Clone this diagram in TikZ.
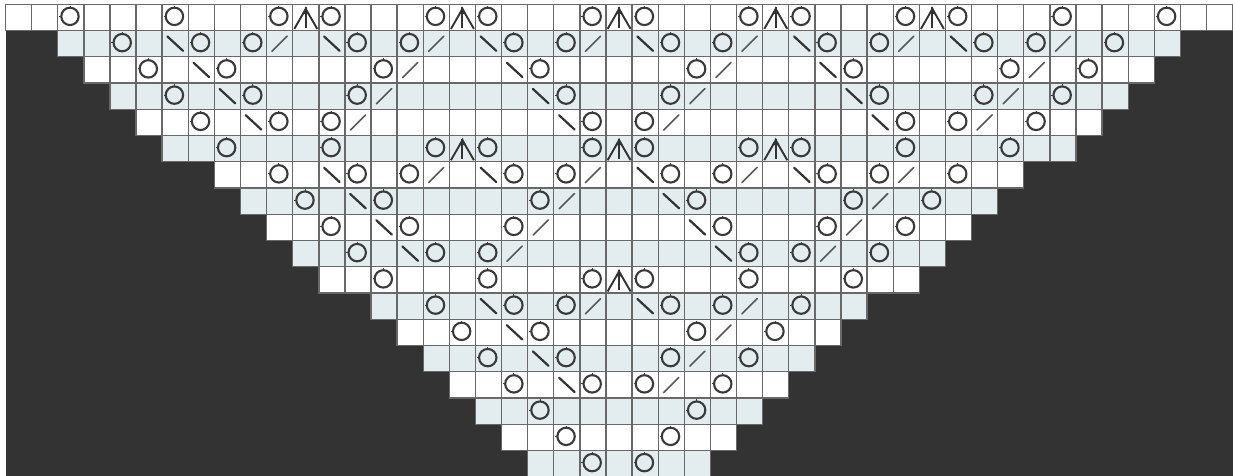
\documentclass[tikz,border=0pt]{standalone}
\definecolor{chartdark}{HTML}{333333}
\definecolor{chartshade}{HTML}{E3ECEE}
\definecolor{chartgrid}{HTML}{686868}
\definecolor{chartink}{HTML}{3A3A3A}
\tikzset{
  cellplain/.style={fill=white,draw=chartgrid,line width=1.35pt},
  cellshade/.style={fill=chartshade,draw=chartgrid,line width=1.35pt},
  yo/.pic={
    \draw[chartink,line width=2.1pt] (0,0) circle (8.7pt);
    \draw[chartink,line width=.8pt] (0,-8.7) -- (0,-10.8) (-8.7,0) -- (-10.8,0);
  },
  lean/.pic={\draw[chartdark,line width=2.2pt,line cap=round] (-7.8,-7.2) -- (7.8,7.2);},
  rise/.pic={\draw[chartink!85,line width=1.6pt,line cap=round] (-7.6,7.6) -- (7.6,-7.6);},
  peak/.pic={
    \draw[chartdark,line width=1.9pt,line join=round] (-11.5,11.5) -- (-1.4,-6) -- (1.4,-6) -- (11.5,11.5);
    \draw[chartdark,line width=2.1pt] (0,-10) -- (0,10.5);
    \fill[chartdark] (0,-11) -- (3.6,-3.5) -- (-3.6,-3.5) -- cycle;
  }
}
\begin{document}
\begin{tikzpicture}[x=1pt,y=-1pt]
\def\cw{26.11}\def\rh{26.25}\def\xo{5.5}\def\yo{4.3}
\useasboundingbox (0,0) rectangle (1233,476);
\clip (0,0) rectangle (1233,476);
\fill[white] (0,0) rectangle (1233,476);
\fill[chartdark] (\xo,30) rectangle (1233,476);
% cells: row / first column (last column is 46 - first)
\foreach \r/\s in {0/0,1/2,2/3,3/4,4/5,5/6,6/8,7/9,8/10,9/11,10/12,11/14,12/15,13/16,14/17,15/18,16/19,17/20}{
  \pgfmathtruncatemacro{\e}{46-\s}
  \pgfmathtruncatemacro{\odd}{mod(\r,2)}
  \ifnum\odd=1 \def\cellsty{cellshade}\else\def\cellsty{cellplain}\fi
  \foreach \c in {\s,...,\e}{
    \draw[\cellsty] ({\xo+\c*\cw},{\yo+\r*\rh}) rectangle ++(\cw,\rh);
  }
}
% yarn overs
\foreach \r/\cs in {
  0/{2,6,10,12,16,18,22,24,28,30,34,36,40,44},
  1/{4,7,9,13,15,19,21,25,27,31,33,37,39,42},
  2/{5,8,14,20,26,32,38,41},
  3/{6,9,13,21,25,33,37,40},
  4/{7,10,12,22,24,34,36,39},
  5/{8,12,16,18,22,24,28,30,34,38},
  6/{10,13,15,19,21,25,27,31,33,36},
  7/{11,14,20,26,32,35},
  8/{12,15,19,27,31,34},
  9/{13,16,18,28,30,33},
  10/{14,18,22,24,28,32},
  11/{16,19,21,25,27,30},
  12/{17,20,26,29},
  13/{18,21,25,28},
  14/{19,22,24,27},
  15/{20,26},
  16/{21,25},
  17/{22,24}}{
  \foreach \c in \cs { \pic at ({\xo+(\c+.47)*\cw},{\yo+(\r+.46)*\rh}) {yo}; }
}
% backslash strokes
\foreach \r/\cs in {
  1/{6,12,18,24,30,36},
  2/{7,19,31},
  3/{8,20,32},
  4/{9,21,33},
  6/{12,18,24,30},
  7/{13,25},
  8/{14,26},
  9/{15,27},
  11/{18,24},
  12/{19},
  13/{20},
  14/{21}}{
  \foreach \c in \cs { \pic at ({\xo+(\c+.5)*\cw},{\yo+(\r+.5)*\rh}) {lean}; }
}
% forward strokes
\foreach \r/\cs in {
  1/{10,16,22,28,34,40},
  2/{15,27,39},
  3/{14,26,38},
  4/{13,25,37},
  6/{16,22,28,34},
  7/{21,33},
  8/{20,32},
  9/{19,31},
  11/{22,28},
  12/{27},
  13/{26},
  14/{25}}{
  \foreach \c in \cs { \pic at ({\xo+(\c+.5)*\cw},{\yo+(\r+.5)*\rh}) {rise}; }
}
% central decreases
\foreach \r/\cs in {0/{11,17,23,29,35},5/{17,23,29},10/{23}}{
  \foreach \c in \cs { \pic at ({\xo+(\c+.5)*\cw},{\yo+(\r+.5)*\rh}) {peak}; }
}
\end{tikzpicture}
\end{document}
